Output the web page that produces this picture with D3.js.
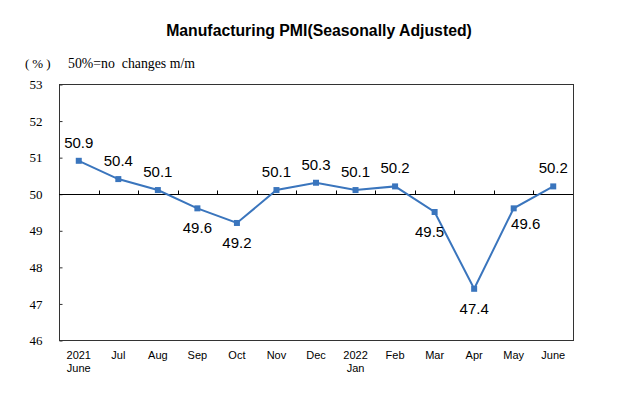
<!DOCTYPE html>
<html>
<head>
<meta charset="utf-8">
<script src="https://cdn.jsdelivr.net/npm/d3@7"></script>
<style>
  body { margin: 0; background: #fff; }
  svg { display: block; }
</style>
</head>
<body>
<div id="chart"></div>
<script>
// data
const months = ["2021\nJune", "Jul", "Aug", "Sep", "Oct", "Nov", "Dec", "2022\nJan", "Feb", "Mar", "Apr", "May", "June"];
const pmi = [50.9, 50.4, 50.1, 49.6, 49.2, 50.1, 50.3, 50.1, 50.2, 49.5, 47.4, 49.6, 50.2];
const labelSide = ["up", "up", "up", "down", "down", "up", "up", "up", "up", "down", "down", "down", "up"];
const yTicks = [46, 47, 48, 49, 50, 51, 52, 53];

const W = 621, H = 394;
const plot = {left: 59, right: 573, top: 84, bottom: 340};

const svg = d3.select("#chart")
    .append("svg")
    .attr("width", W)
    .attr("height", H);

// scales
const x = d3.scaleBand()
    .domain(months)
    .range([plot.left, plot.right])
    .padding(0);
const cx = d => x(d) + x.bandwidth() / 2;

const y = d3.scaleLinear()
    .domain([46, 53])
    .range([plot.bottom, plot.top]);

// title
svg.append("text")
    .attr("x", 319)
    .attr("y", 36)
    .attr("text-anchor", "middle")
    .style("font-family", "Liberation Sans, Arial, sans-serif")
    .style("font-weight", "bold")
    .style("font-size", "15.8px")
    .text("Manufacturing PMI(Seasonally Adjusted)");

// unit note
svg.append("text")
    .attr("x", 25)
    .attr("y", 68)
    .style("font-family", "Liberation Serif, serif")
    .style("font-size", "13px")
    .style("letter-spacing", "3px")
    .text("(%)");
svg.append("text")
    .attr("x", 68)
    .attr("y", 68)
    .style("font-family", "Liberation Serif, serif")
    .style("font-size", "13.8px")
    .attr("xml:space", "preserve")
    .text("50%=no  changes m/m");

// frame
svg.append("rect")
    .attr("x", plot.left + 0.5)
    .attr("y", plot.top + 0.5)
    .attr("width", plot.right - plot.left)
    .attr("height", plot.bottom - plot.top)
    .attr("fill", "none")
    .attr("stroke", "#333")
    .attr("stroke-width", 1);

// y axis (ticks inside)
const yAxis = svg.append("g")
    .attr("transform", `translate(${plot.left + 0.5},0.5)`)
    .call(d3.axisLeft(y).tickValues(yTicks).tickFormat(d3.format("d")).tickSize(-3).tickPadding(17));
yAxis.select(".domain").remove();
yAxis.selectAll("line").attr("stroke", "#333");
yAxis.selectAll("text")
    .style("font-family", "Liberation Serif, serif")
    .style("font-size", "13px")
    .attr("fill", "#000");

// 50 line acting as category axis
const xAxis = svg.append("g")
    .attr("transform", `translate(0,${Math.round(y(50)) + 0.5})`);
xAxis.append("line")
    .attr("x1", plot.left)
    .attr("x2", plot.right)
    .attr("stroke", "#000");
xAxis.selectAll("line.tk")
    .data(months.slice(1))
    .enter()
    .append("line")
    .attr("class", "tk")
    .attr("x1", d => Math.round(x(d)) + 0.5)
    .attr("x2", d => Math.round(x(d)) + 0.5)
    .attr("y1", 0)
    .attr("y2", -4)
    .attr("stroke", "#000");

// month labels under the plot
svg.selectAll(".mlabel")
    .data(months)
    .enter()
    .append("text")
    .attr("class", "mlabel")
    .attr("text-anchor", "middle")
    .style("font-family", "Liberation Sans, Arial, sans-serif")
    .style("font-size", "11px")
    .each(function(d) {
        const lines = d.split("\n");
        lines.forEach((t, i) => {
            d3.select(this).append("tspan")
                .attr("x", cx(d))
                .attr("y", 359 + i * 13)
                .text(t);
        });
    });

// line
const color = "#3a75bd";
svg.append("path")
    .datum(pmi)
    .attr("fill", "none")
    .attr("stroke", color)
    .attr("stroke-width", 2)
    .attr("d", d3.line()
        .x((d, i) => cx(months[i]))
        .y(d => y(d)));

// markers
svg.selectAll(".dot")
    .data(pmi)
    .enter()
    .append("rect")
    .attr("class", "dot")
    .attr("x", (d, i) => cx(months[i]) - 3)
    .attr("y", d => y(d) - 3)
    .attr("width", 6)
    .attr("height", 6)
    .attr("fill", color);

// value labels
const dxFor = i => (i === 9 ? -5 : i === 11 ? 12 : 0);
svg.selectAll(".vlabel")
    .data(pmi)
    .enter()
    .append("text")
    .attr("class", "vlabel")
    .attr("text-anchor", "middle")
    .attr("x", (d, i) => cx(months[i]) + dxFor(i))
    .attr("y", (d, i) => labelSide[i] === "up" ? y(d) - 13 : y(d) + (i === 11 ? 21 : 25))
    .style("font-family", "Liberation Sans, Arial, sans-serif")
    .style("font-size", "15px")
    .text(d => d.toFixed(1));
</script>
</body>
</html>
